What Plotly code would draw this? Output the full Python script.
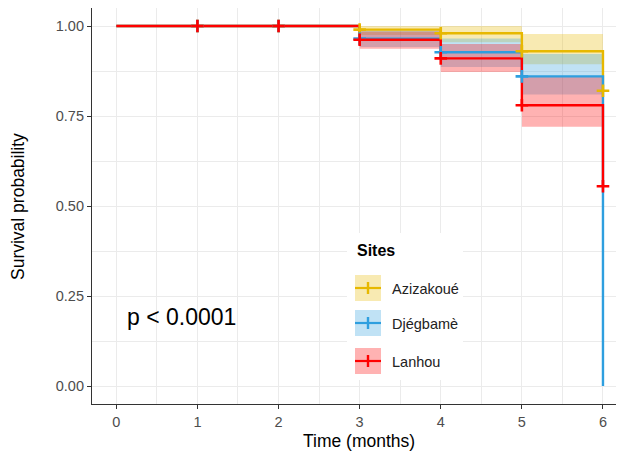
import plotly.graph_objects as go

# ---------------- data ----------------
times = [0, 1, 2, 3, 4, 5, 6]
sites = ["Azizakoué", "Djégbamè", "Lanhou"]
colors = ["#E7B800", "#2E9FDF", "#FF0000"]
fills = ["rgba(231,184,0,0.3)", "rgba(46,159,223,0.3)", "rgba(255,0,0,0.3)"]

surv_aziz = [1, 1, 1, 0.99, 0.98, 0.93, 0.82]
lower_aziz = [1, 1, 1, 0.975, 0.955, 0.894, 0.82]
upper_aziz = [1, 1, 1, 1.0, 1.0, 0.978, 0.82]

surv_djeg = [1, 1, 1, 0.965, 0.927, 0.86, 0.0]
lower_djeg = [1, 1, 1, 0.942, 0.886, 0.81, 0.0]
upper_djeg = [1, 1, 1, 0.988, 0.965, 0.922, 0.0]

surv_lanh = [1, 1, 1, 0.962, 0.91, 0.78, 0.555]
lower_lanh = [1, 1, 1, 0.937, 0.872, 0.72, 0.555]
upper_lanh = [1, 1, 1, 0.985, 0.95, 0.858, 0.555]

cens_aziz = [1, 2, 3, 4, 5, 6]
cens_djeg = [1, 2, 3, 4, 5]
cens_lanh = [1, 2, 3, 4, 5, 6]

y_ticks = [0, 0.25, 0.5, 0.75, 1.0]
x_ticks = [0, 1, 2, 3, 4, 5, 6]
pval_text = "p < 0.0001"

survs = [surv_aziz, surv_djeg, surv_lanh]
lowers = [lower_aziz, lower_djeg, lower_lanh]
uppers = [upper_aziz, upper_djeg, upper_lanh]
censs = [cens_aziz, cens_djeg, cens_lanh]

FONT = "Liberation Sans, Arial, sans-serif"


def step_xy(t, v):
    xs, ys = [], []
    for i in range(len(t) - 1):
        xs += [t[i], t[i + 1]]
        ys += [v[i], v[i]]
    return xs, ys


fig = go.Figure()

# confidence ribbons
for i in range(3):
    xu, yu = step_xy(times, uppers[i])
    xl, yl = step_xy(times, lowers[i])
    fig.add_trace(go.Scatter(
        x=xu + xl[::-1], y=yu + yl[::-1], mode="lines", fill="toself",
        fillcolor=fills[i], line=dict(width=0), hoverinfo="skip", showlegend=False))

# survival curves
for i in range(3):
    fig.add_trace(go.Scatter(
        x=times, y=survs[i], mode="lines", line=dict(color=colors[i], width=2.4, shape="hv"),
        name=sites[i], showlegend=False))

# censor marks
for i in range(3):
    cy = [survs[i][times.index(t)] for t in censs[i]]
    fig.add_trace(go.Scatter(
        x=censs[i], y=cy, mode="markers",
        marker=dict(symbol="cross-thin", size=9, color=colors[i],
                    line=dict(width=2.6, color=colors[i])),
        showlegend=False, hoverinfo="skip"))

# page offset (browser body margin) and plot area in reference pixels
OFF = 8
FW, FH = 624 - OFF, 456 - OFF
L, R, T, B = 92, 624, 8, 404
W, H = R - L, B - T


def px(x):
    return (x - L) / W


def py(y):
    return (B - y) / H


shapes = []
annotations = []

# legend (manual, ggplot-like)
shapes.append(dict(type="rect", xref="paper", yref="paper", x0=px(347), x1=px(463),
                   y0=py(380), y1=py(233), fillcolor="white", line=dict(width=0), layer="above"))
annotations.append(dict(text="<b>Sites</b>", xref="paper", yref="paper", x=px(355), y=py(250),
                        xanchor="left", yanchor="middle", showarrow=False,
                        font=dict(family=FONT, size=16, color="black")))
key_centers = [288, 323, 361]
for i in range(3):
    cy = key_centers[i]
    shapes.append(dict(type="rect", xref="paper", yref="paper", x0=px(355), x1=px(381),
                       y0=py(cy + 13), y1=py(cy - 13), fillcolor=fills[i],
                       line=dict(width=0), layer="above"))
    shapes.append(dict(type="line", xref="paper", yref="paper", x0=px(355), x1=px(381),
                       y0=py(cy), y1=py(cy), line=dict(color=colors[i], width=2.2), layer="above"))
    shapes.append(dict(type="line", xref="paper", yref="paper", x0=px(368), x1=px(368),
                       y0=py(cy - 6), y1=py(cy + 6), line=dict(color=colors[i], width=2.4), layer="above"))
    annotations.append(dict(text=sites[i], xref="paper", yref="paper", x=px(390), y=py(cy + 1),
                            xanchor="left", yanchor="middle", showarrow=False,
                            font=dict(family=FONT, size=14.5, color="#222222")))

# p-value
annotations.append(dict(text=pval_text, x=0.11, y=0.193, xref="x", yref="y",
                        xanchor="left", yanchor="middle", showarrow=False,
                        font=dict(family=FONT, size=23, color="black")))

# axis titles
annotations.append(dict(text="Survival probability", xref="paper", yref="paper",
                        x=px(18), y=py(207), textangle=-90, showarrow=False,
                        xanchor="center", yanchor="middle",
                        font=dict(family=FONT, size=17.5, color="black")))
annotations.append(dict(text="Time (months)", xref="paper", yref="paper",
                        x=px(359), y=py(441), showarrow=False,
                        xanchor="center", yanchor="middle",
                        font=dict(family=FONT, size=17.5, color="black")))

grid = "#EBEBEB"
fig.update_layout(
    width=FW, height=FH, autosize=False,
    margin=dict(l=L - OFF, r=0, t=T - OFF, b=FH - (B - OFF), pad=0),
    paper_bgcolor="white", plot_bgcolor="white",
    showlegend=False, shapes=shapes, annotations=annotations,
    xaxis=dict(range=[-0.3, (R - 117) / 81.0], tickvals=x_ticks, ticks="outside", ticklen=4,
               tickcolor="#333333", tickwidth=1.2, showline=True, linecolor="#333333", linewidth=1.2,
               mirror=True, showgrid=True, gridcolor=grid, gridwidth=1, zeroline=False,
               tickfont=dict(family=FONT, size=14.5, color="#4D4D4D"),
               minor=dict(dtick=0.5, tick0=0, showgrid=True, gridcolor=grid, gridwidth=0.6)),
    yaxis=dict(range=[-0.05, 1.05], tickvals=y_ticks, tickformat=".2f", ticks="outside", ticklen=4,
               tickcolor="#333333", tickwidth=1.2, showline=True, linecolor="#333333", linewidth=1.2,
               mirror=False, showgrid=True, gridcolor=grid, gridwidth=1, zeroline=False,
               tickfont=dict(family=FONT, size=14.5, color="#4D4D4D"),
               minor=dict(dtick=0.125, tick0=0, showgrid=True, gridcolor=grid, gridwidth=0.6)),
)

fig.write_html("out.html")
